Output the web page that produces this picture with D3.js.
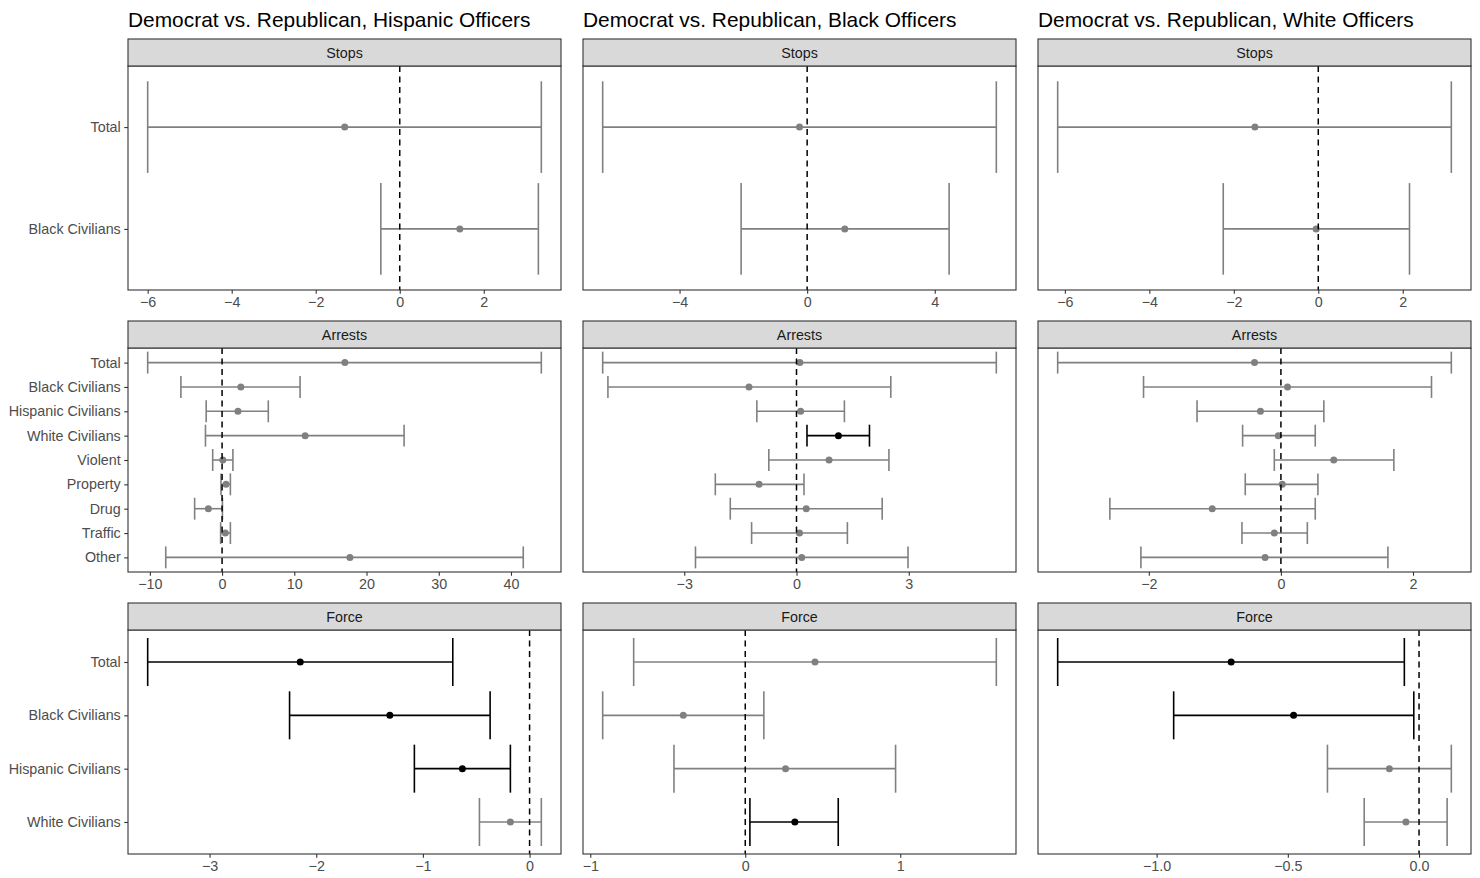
<!DOCTYPE html>
<html>
<head>
<meta charset="utf-8">
<script src="https://cdn.jsdelivr.net/npm/d3@7"></script>
<style>
  body { margin: 0; background: #fff; }
  svg { display: block; font-family: "Liberation Sans", Arial, sans-serif; }
</style>
</head>
<body>
<svg id="chart" width="1480" height="878"></svg>
<script>
// officer groups (columns) and outcomes (rows)
const titles = [
    "Democrat vs. Republican, Hispanic Officers",
    "Democrat vs. Republican, Black Officers",
    "Democrat vs. Republican, White Officers"
];
const outcomes = ["Stops", "Arrests", "Force"];

const stopsCats = ["Total", "Black Civilians"];
const arrestsCats = ["Total", "Black Civilians", "Hispanic Civilians", "White Civilians",
    "Violent", "Property", "Drug", "Traffic", "Other"];
const forceCats = ["Total", "Black Civilians", "Hispanic Civilians", "White Civilians"];

// each row: [lower, estimate, upper]
const stopsHispanic = [[-6.00, -1.31, 3.37], [-0.45, 1.43, 3.30]];
const stopsBlack    = [[-6.41, -0.24, 5.93], [-2.07, 1.18, 4.45]];
const stopsWhite    = [[-6.17, -1.50, 3.15], [-2.25, -0.05, 2.16]];

const arrestsHispanic = [[-10.3, 17.0, 44.2], [-5.7, 2.6, 10.8], [-2.2, 2.2, 6.4],
    [-2.3, 11.5, 25.2], [-1.3, 0.1, 1.5], [-0.15, 0.55, 1.15], [-3.8, -1.9, 0.05],
    [-0.2, 0.45, 1.15], [-7.8, 17.7, 41.7]];
const arrestsBlack = [[-5.18, 0.09, 5.34], [-5.04, -1.27, 2.52], [-1.06, 0.11, 1.28],
    [0.28, 1.12, 1.95], [-0.74, 0.87, 2.47], [-2.17, -1.00, 0.20], [-1.77, 0.26, 2.29],
    [-1.20, 0.08, 1.36], [-2.70, 0.14, 2.98]];
const arrestsWhite = [[-3.38, -0.40, 2.58], [-2.08, 0.10, 2.28], [-1.27, -0.31, 0.65],
    [-0.58, -0.04, 0.52], [-0.10, 0.80, 1.71], [-0.54, 0.02, 0.56], [-2.59, -1.04, 0.52],
    [-0.59, -0.10, 0.40], [-2.12, -0.24, 1.62]];

const forceHispanic = [[-3.58, -2.15, -0.72], [-2.25, -1.31, -0.37], [-1.08, -0.63, -0.18],
    [-0.47, -0.18, 0.11]];
const forceBlack = [[-0.72, 0.45, 1.62], [-0.92, -0.40, 0.12], [-0.46, 0.26, 0.97],
    [0.03, 0.32, 0.60]];
const forceWhite = [[-1.377, -0.716, -0.056], [-0.935, -0.478, -0.02], [-0.349, -0.113, 0.123],
    [-0.209, -0.05, 0.107]];

// tick values per panel, row by row
const stopsTicks = [[-6, -4, -2, 0, 2], [-4, 0, 4], [-6, -4, -2, 0, 2]];
const arrestsTicks = [[-10, 0, 10, 20, 30, 40], [-3, 0, 3], [-2, 0, 2]];
const forceTicks = [[-3, -2, -1, 0], [-1, 0, 1], [-1.0, -0.5, 0.0]];

const panelRows = [
    { cats: stopsCats, data: [stopsHispanic, stopsBlack, stopsWhite], ticks: stopsTicks },
    { cats: arrestsCats, data: [arrestsHispanic, arrestsBlack, arrestsWhite], ticks: arrestsTicks },
    { cats: forceCats, data: [forceHispanic, forceBlack, forceWhite], ticks: forceTicks }
];

// layout
const colLeft = [128, 583, 1038];
const panelW = 433;
const rowTop = [39, 321, 603];
const stripH = 27;
const panelH = 224;
const tickLen = 3.75;
const labelSize = 14.3;

const svg = d3.select("#chart");

titles.forEach((t, c) => {
    svg.append("text")
        .attr("x", colLeft[c])
        .attr("y", 26.5)
        .attr("font-size", 20.9)
        .attr("fill", "#000")
        .text(t);
});

panelRows.forEach((row, r) => {
    row.data.forEach((rows, c) => {
        const x0 = colLeft[c];
        const y0 = rowTop[r] + stripH;
        const g = svg.append("g").attr("transform", `translate(${x0},${y0})`);

        // x range like ggplot: data + zero line, 5% expansion
        const lo = d3.min(rows, d => d[0]);
        const hi = d3.max(rows, d => d[2]);
        const mn = Math.min(lo, 0), mx = Math.max(hi, 0);
        const pad = (mx - mn) * 0.05;
        const x = d3.scaleLinear().domain([mn - pad, mx + pad]).range([0, panelW]);
        const y = d3.scaleLinear().domain([-0.6, row.cats.length - 1 + 0.6]).range([0, panelH]);

        // strip
        svg.append("rect")
            .attr("x", x0).attr("y", rowTop[r])
            .attr("width", panelW).attr("height", stripH)
            .attr("fill", "#d9d9d9")
            .attr("stroke", "#333333")
            .attr("stroke-width", 1.1);
        svg.append("text")
            .attr("x", x0 + panelW / 2)
            .attr("y", rowTop[r] + stripH / 2)
            .attr("dy", "0.35em")
            .attr("text-anchor", "middle")
            .attr("font-size", labelSize)
            .attr("fill", "#1a1a1a")
            .text(outcomes[r]);

        const colorOf = d => (d[0] > 0 || d[2] < 0) ? "#000000" : "#808080";
        const capH = 0.45 * (y(1) - y(0));

        // error bars
        const bars = g.append("g").selectAll("g")
            .data(rows)
            .join("g")
            .attr("stroke", colorOf)
            .attr("stroke-width", 1.6)
            .attr("fill", "none");
        bars.append("line")
            .attr("x1", d => x(d[0])).attr("x2", d => x(d[2]))
            .attr("y1", (d, i) => y(i)).attr("y2", (d, i) => y(i));
        bars.append("line")
            .attr("x1", d => x(d[0])).attr("x2", d => x(d[0]))
            .attr("y1", (d, i) => y(i) - capH).attr("y2", (d, i) => y(i) + capH);
        bars.append("line")
            .attr("x1", d => x(d[2])).attr("x2", d => x(d[2]))
            .attr("y1", (d, i) => y(i) - capH).attr("y2", (d, i) => y(i) + capH);

        // point estimates
        g.append("g").selectAll("circle")
            .data(rows)
            .join("circle")
            .attr("cx", d => x(d[1]))
            .attr("cy", (d, i) => y(i))
            .attr("r", 3.5)
            .attr("fill", colorOf);

        // zero reference line
        g.append("line")
            .attr("x1", x(0)).attr("x2", x(0))
            .attr("y1", 0).attr("y2", panelH)
            .attr("stroke", "#000")
            .attr("stroke-width", 1.5)
            .attr("stroke-dasharray", "6,4.5");

        // x axis
        const fmt = (r === 2 && c === 2) ? d3.format(".1f") : d3.format("d");
        const xAxis = g.append("g")
            .attr("transform", `translate(0,${panelH})`)
            .call(d3.axisBottom(x).tickValues(row.ticks[c]).tickFormat(fmt)
                .tickSize(tickLen).tickPadding(3));
        xAxis.select(".domain").remove();
        xAxis.selectAll("line").attr("stroke", "#333333").attr("stroke-width", 1.1);
        xAxis.selectAll("text").attr("fill", "#4d4d4d").attr("font-size", labelSize)
            .attr("font-family", "Liberation Sans, Arial, sans-serif");

        // y axis labels only on the first column
        if (c === 0) {
            const yAxis = g.append("g")
                .call(d3.axisLeft(y).tickValues(d3.range(row.cats.length))
                    .tickFormat(i => row.cats[i]).tickSize(tickLen).tickPadding(3.5));
            yAxis.select(".domain").remove();
            yAxis.selectAll("line").attr("stroke", "#333333").attr("stroke-width", 1.1);
            yAxis.selectAll("text").attr("fill", "#4d4d4d").attr("font-size", labelSize)
                .attr("font-family", "Liberation Sans, Arial, sans-serif");
        }

        // panel border
        g.append("rect")
            .attr("width", panelW).attr("height", panelH)
            .attr("fill", "none")
            .attr("stroke", "#333333")
            .attr("stroke-width", 1.1);
    });
});
</script>
</body>
</html>
